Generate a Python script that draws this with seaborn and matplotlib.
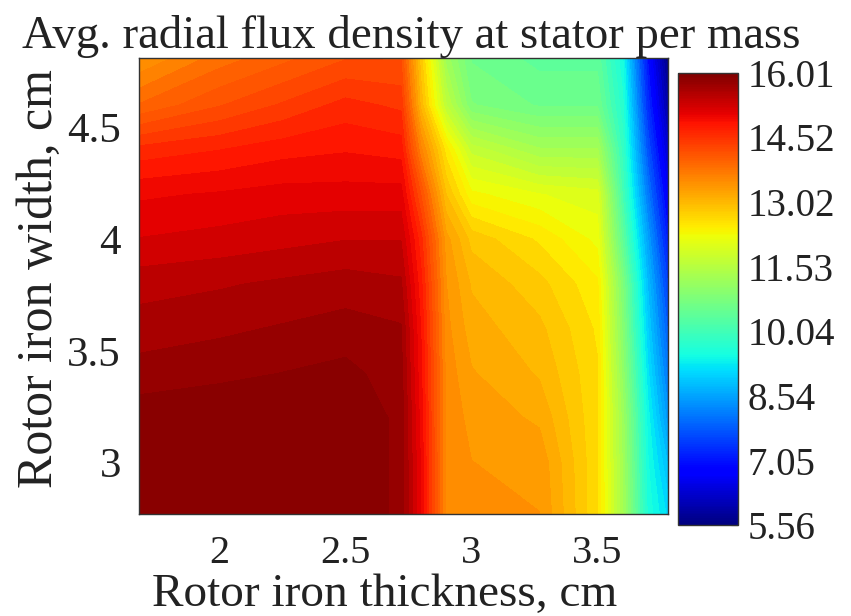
import numpy as np
import pandas as pd
import matplotlib
matplotlib.use("Agg")
import matplotlib.pyplot as plt
import seaborn as sns

# Grid of rotor iron thickness (cm) and rotor iron width (cm)
thickness_cm = [1.68, 2.0, 2.25, 2.5, 2.72, 2.8, 2.9, 3.0, 3.27, 3.5, 3.6, 3.7, 3.78]
width_cm = [2.77, 3.0, 3.2, 3.4, 3.6, 3.8, 4.0, 4.2, 4.4, 4.6, 4.81]

# Average radial flux density at stator per mass, one row per width value
flux_w277 = [16.01, 16.0, 16.0, 16.0, 15.8, 15.0, 13.5, 13.4, 13.4, 12.6, 11.3, 9.6, 9.1]
flux_w300 = [16.0, 16.0, 16.0, 16.0, 15.8, 15.0, 13.5, 13.4, 13.35, 12.6, 11.25, 9.5, 8.8]
flux_w320 = [15.95, 16.0, 16.0, 16.0, 15.8, 14.95, 13.5, 13.35, 13.2, 12.6, 11.2, 9.4, 8.4]
flux_w340 = [15.75, 15.8, 15.85, 15.9, 15.75, 14.9, 13.5, 13.25, 13.05, 12.6, 11.05, 9.2, 8.1]
flux_w360 = [15.6, 15.65, 15.7, 15.75, 15.7, 14.85, 13.45, 13.15, 12.95, 12.55, 10.9, 9.0, 7.8]
flux_w380 = [15.45, 15.5, 15.55, 15.6, 15.55, 14.75, 13.4, 13.05, 12.8, 12.45, 10.8, 8.8, 7.5]
flux_w400 = [15.2, 15.25, 15.3, 15.35, 15.35, 14.6, 13.3, 12.85, 12.55, 12.2, 10.4, 8.5, 7.1]
flux_w420 = [15.0, 15.05, 15.1, 15.1, 15.1, 14.2, 12.9, 12.3, 12.1, 12.0, 10.1, 8.1, 6.7]
flux_w440 = [14.6, 14.7, 14.8, 14.85, 14.8, 13.6, 12.5, 11.7, 11.3, 11.3, 9.9, 7.7, 6.3]
flux_w460 = [13.9, 14.2, 14.4, 14.6, 14.5, 13.0, 11.6, 10.8, 10.6, 10.6, 9.7, 7.3, 5.9]
flux_w481 = [13.4, 13.8, 14.0, 14.2, 14.2, 12.8, 11.2, 10.6, 10.4, 10.4, 9.5, 7.0, 5.56]

x_ticks = [2, 2.5, 3, 3.5]
x_labels = ["2", "2.5", "3", "3.5"]
y_ticks = [3, 3.5, 4, 4.5]
y_labels = ["3", "3.5", "4", "4.5"]
cbar_ticks = [5.56, 7.05, 8.54, 10.04, 11.53, 13.02, 14.52, 16.01]
cbar_labels = ["5.56", "7.05", "8.54", "10.04", "11.53", "13.02", "14.52", "16.01"]

flux = pd.DataFrame(
    [flux_w277, flux_w300, flux_w320, flux_w340, flux_w360, flux_w380,
     flux_w400, flux_w420, flux_w440, flux_w460, flux_w481],
    index=width_cm, columns=thickness_cm,
)

sns.set_style("ticks", {"xtick.direction": "in", "ytick.direction": "in"})
plt.rcParams["font.family"] = ["Liberation Serif", "DejaVu Serif"]

W, H = 851, 616
fig = plt.figure(figsize=(W / 100, H / 100), dpi=100)
ax = fig.add_axes([139 / W, 1 - 514 / H, 529 / W, 456 / H])
cax = fig.add_axes([678 / W, 1 - 525 / H, 60 / W, 452 / H])

cmap = matplotlib.colormaps["jet"]
vmin, vmax = cbar_ticks[0], cbar_ticks[-1]
X, Y = np.meshgrid(flux.columns.values, flux.index.values)
levels = np.linspace(vmin, vmax, 65)
ax.contourf(X, Y, flux.values, levels=levels, cmap=cmap, vmin=vmin, vmax=vmax)

ax.set_xlim(thickness_cm[0], thickness_cm[-1])
ax.set_ylim(width_cm[0], width_cm[-1])
ax.set_xticks(x_ticks, x_labels)
ax.set_yticks(y_ticks, y_labels)
ax.tick_params(axis="both", which="both", direction="in", top=True, right=True,
               length=5, width=0.8, color="#222222", labelcolor="#222222")
ax.tick_params(axis="x", labelsize=29, pad=15)
ax.tick_params(axis="y", labelsize=31, pad=13)
for side in ax.spines.values():
    side.set_visible(True)
    side.set_linewidth(1.0)
    side.set_color("#333333")

ax.set_xlabel("Rotor iron thickness, cm", fontsize=34, color="#222222")
ax.xaxis.set_label_coords(385 / W, 1 - 606 / H, transform=fig.transFigure)
ax.xaxis.label.set_va("baseline")

ax.set_ylabel("Rotor iron width, cm", fontsize=36, color="#222222")
ax.yaxis.set_label_coords(40 / W, 1 - 279 / H, transform=fig.transFigure)
ax.yaxis.label.set_va("center")

ax.set_title("Avg. radial flux density at stator per mass", fontsize=33.7,
             color="#222222", x=(411 - 139) / 529, pad=1)

norm = matplotlib.colors.Normalize(vmin=vmin, vmax=vmax)
sm = matplotlib.cm.ScalarMappable(norm=norm, cmap=cmap)
cb = fig.colorbar(sm, cax=cax)
cb.set_ticks(cbar_ticks, labels=cbar_labels)
cb.ax.tick_params(direction="in", length=5, width=0.8, color="#222222",
                  labelsize=28, pad=7, labelcolor="#222222")
cb.outline.set_linewidth(1.0)
cb.outline.set_edgecolor("#333333")

fig.savefig("out.png", dpi=100)
